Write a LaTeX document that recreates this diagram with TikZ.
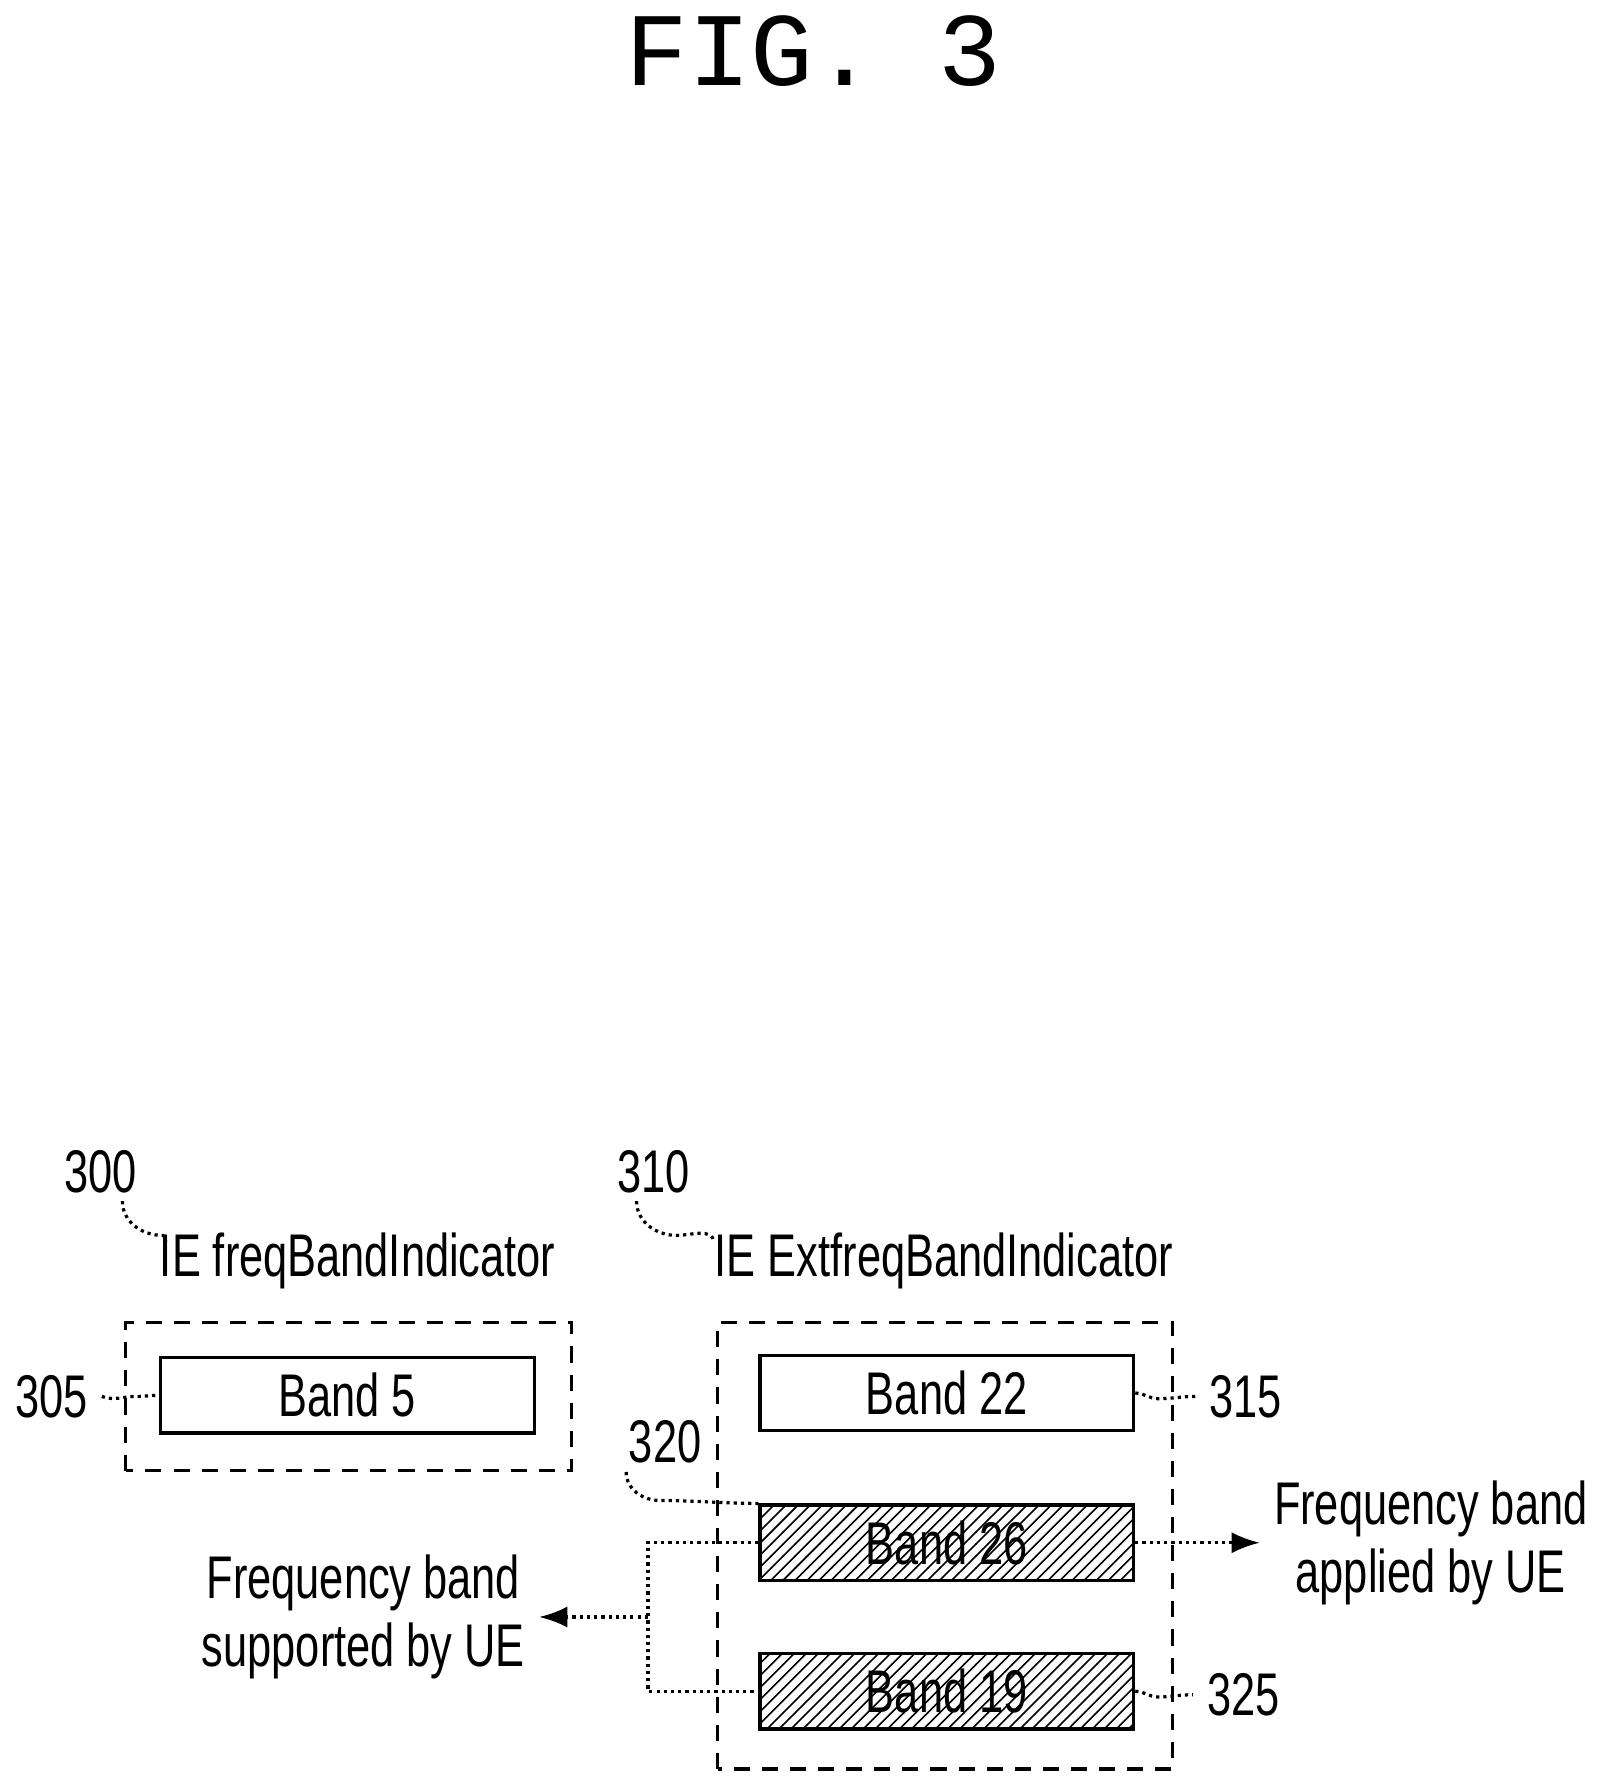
\documentclass[tikz,border=0pt]{standalone}
\usepackage{fontspec}
\setmainfont{Liberation Sans}
\newfontfamily\narrowfont[FakeStretch=0.72]{Liberation Sans}
\newfontfamily\titlefont{Liberation Mono}
\usetikzlibrary{patterns,arrows.meta}
\begin{document}
\begin{tikzpicture}
    [every node/.style={font=\narrowfont\fontsize{15}{17}\selectfont},
     outer/.style={draw,dashed,thick,dash pattern=on 4pt off 3pt},
     band/.style={draw,thick,minimum width=3.27cm,minimum height=0.66cm},
     hatched/.style={band,pattern=north east lines},
     lead/.style={densely dotted,thick},
     post/.style={-{Latex[length=7pt]},densely dotted,thick}]
    \useasboundingbox (0,0) rectangle (14.1,15.62);
    \node (T) at (7.12,15.17) {\titlefont\fontsize{26}{28}\selectfont FIG.~3};
    % left block
    \node (n300) at (0.88,5.37) {300};
    \node (IE1) at (3.13,4.59) {IE freqBandIndicator};
    \draw [outer] (1.10,2.75) rectangle (5.00,4.05);
    \node [band] (B5) at (3.04,3.41) {Band 5};
    \node (n305) at (0.45,3.40) {305};
    \draw [lead] (n300.south east) ++(-0.25,0.05) to[out=-90,in=180] ++(0.35,-0.3) to[out=0,in=100] (1.45,4.75);
    \draw [lead] (n305.east) to[out=-20,in=180] ++(0.3,0) to[out=0,in=180] (B5.west);
    % right block
    \node (n310) at (5.72,5.37) {310};
    \node (IE2) at (8.26,4.59) {IE ExtfreqBandIndicator};
    \draw [outer] (6.28,0.14) rectangle (10.26,4.05);
    \node [band] (B22) at (8.285,3.43) {Band 22};
    \node [hatched] (B26) at (8.285,2.12) {Band 26};
    \node [hatched] (B19) at (8.285,0.82) {Band 19};
    \node (n315) at (10.90,3.40) {315};
    \node (n320) at (5.82,3.00) {320};
    \node (n325) at (10.88,0.79) {325};
    \draw [lead] (n310.south) ++(-0.15,0.05) to[out=-90,in=180] ++(0.35,-0.3) to[out=0,in=100] (6.25,4.75);
    \draw [lead] (B22.east) to[out=0,in=180] ++(0.2,-0.05) to[out=0,in=180] (n315.west);
    \draw [lead] (B19.east) to[out=0,in=180] ++(0.2,-0.05) to[out=0,in=180] (n325.west);
    \draw [lead] (n320.south west) ++(0.1,0.05) to[out=-90,in=180] ++(0.3,-0.25) to[out=0,in=180] (B26.north west);
    % outputs
    \coordinate (J) at (5.67,1.47);
    \draw [thick,densely dotted] (B26.west) -| (J) |- (B19.west);
    \node [align=center] (SUP) at (3.18,1.47) {Frequency band\\supported by UE};
    \node [align=center] (APP) at (12.52,2.12) {Frequency band\\applied by UE};
    \draw [post] (J) -- (SUP.east);
    \draw [post] (B26.east) -- (APP.west);
\end{tikzpicture}
\end{document}
